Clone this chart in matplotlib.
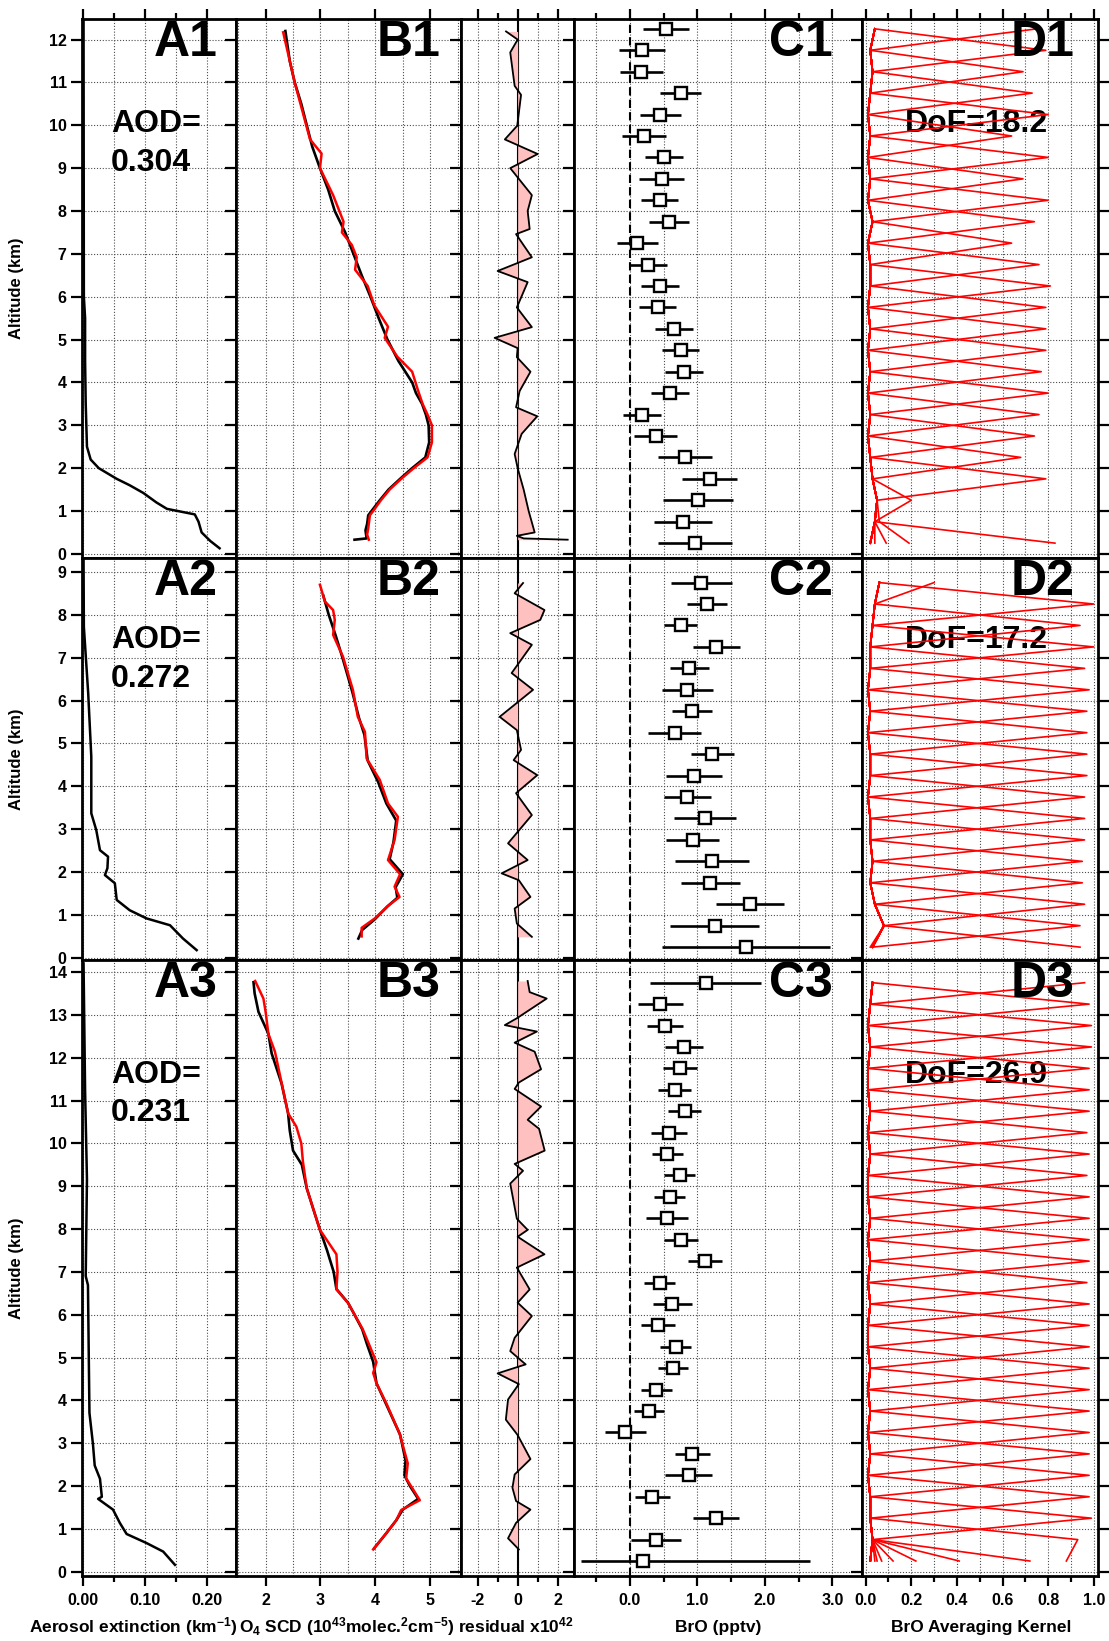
"""Aerosol, O4 and BrO profile retrievals for three cases (rows 1-3).

Columns: aerosol extinction (A), measured vs modelled O4 SCD (B),
fit residual, retrieved BrO with errors (C) and BrO averaging kernels (D).
"""

import matplotlib

matplotlib.use("Agg")
import matplotlib.pyplot as plt
import numpy as np
from matplotlib.ticker import FormatStrFormatter, MultipleLocator

plt.rcParams.update({
    "font.family": ["Liberation Sans", "DejaVu Sans"],
    "font.weight": "bold",
    "mathtext.fontset": "custom",
    "mathtext.rm": "Liberation Sans:bold",
    "mathtext.it": "Liberation Sans:bold",
    "mathtext.bf": "Liberation Sans:bold",
    "mathtext.default": "rm",
    "axes.unicode_minus": False,
})

# ---------------------------------------------------------------- data
# retrieval layer centres (km)
layers1 = np.arange(0.25, 12.5, 0.5)
layers2 = np.arange(0.25, 9.0, 0.5)
layers3 = np.arange(0.25, 14.0, 0.5)

aod_text = ["0.304", "0.272", "0.231"]
dof_text = ["18.2", "17.2", "26.9"]

# aerosol extinction (km-1)
ext1_alt = [0.13, 0.3, 0.5, 0.75, 0.92, 1.05, 1.2, 1.42, 1.6, 1.75, 2.0, 2.2, 2.5,
            3.0, 3.5, 4.5, 5.5, 6.0, 12.45]
ext1 = [0.220, 0.205, 0.191, 0.186, 0.180, 0.135, 0.118, 0.097, 0.075, 0.054, 0.025,
        0.012, 0.006, 0.005, 0.004, 0.003, 0.003, 0.001, 0.0005]
ext2_alt = [0.18, 0.45, 0.76, 0.92, 1.11, 1.35, 1.74, 1.93, 2.09, 2.36, 2.51, 2.98,
            3.37, 4.69, 6.17, 7.72, 9.3]
ext2 = [0.183, 0.161, 0.140, 0.102, 0.075, 0.054, 0.051, 0.035, 0.039, 0.040, 0.027,
        0.021, 0.013, 0.013, 0.008, 0.001, 0.0005]
ext3_alt = [0.16, 0.47, 0.67, 0.88, 1.14, 1.45, 1.70, 1.75, 2.17, 2.48, 2.99, 3.71,
            6.69, 6.9, 9.16, 11.22, 14.2]
ext3 = [0.148, 0.129, 0.102, 0.070, 0.059, 0.048, 0.024, 0.030, 0.027, 0.0185, 0.0156,
        0.010, 0.0076, 0.004, 0.006, 0.003, 0.0005]

# O4 SCD (1e43 molec^2 cm^-5): measured (black) and modelled (red)
o4m1_alt = [0.33, 0.36, 0.55, 0.7, 0.9, 1.0, 1.25, 1.5, 1.75, 2.0, 2.25, 2.6, 3.0,
            3.25, 3.5, 3.75, 4.0, 4.5, 5.0, 5.5, 6.0, 6.5, 7.0, 7.5, 8.0, 8.5, 9.0,
            9.5, 10.0, 10.5, 11.0, 11.5, 12.2]
o4m1 = [3.62, 3.84, 3.82, 3.85, 3.87, 3.93, 4.08, 4.24, 4.45, 4.67, 4.91, 4.98, 4.97,
        4.92, 4.85, 4.74, 4.67, 4.42, 4.22, 4.06, 3.91, 3.75, 3.60, 3.45, 3.26, 3.14,
        2.99, 2.85, 2.75, 2.65, 2.53, 2.44, 2.36]
o4r1_alt = [0.33, 0.45, 0.6, 0.9, 1.0, 1.25, 1.5, 1.75, 2.0, 2.25, 2.6, 3.0, 3.25, 3.5,
            3.8, 4.25, 4.6, 5.04, 5.3, 5.8, 6.25, 6.63, 6.92, 7.21, 7.5, 7.75, 8.37,
            9.0, 9.34, 9.67, 10.0, 11.0, 12.17]
o4r1 = [3.88, 3.85, 3.87, 3.90, 3.96, 4.10, 4.26, 4.47, 4.70, 4.95, 5.03, 5.03, 4.95,
        4.86, 4.78, 4.67, 4.40, 4.17, 4.23, 3.98, 3.86, 3.63, 3.66, 3.57, 3.39, 3.42,
        3.23, 2.99, 3.02, 2.81, 2.74, 2.53, 2.32]
o4m2_alt = [0.45, 0.65, 0.9, 1.2, 1.4, 1.65, 1.95, 2.3, 2.7, 3.2, 3.6, 4.1, 4.6, 5.2,
            5.6, 6.2, 7.0, 7.5, 8.0, 8.45]
o4m2 = [3.69, 3.76, 3.99, 4.22, 4.40, 4.37, 4.50, 4.26, 4.33, 4.38, 4.20, 4.05, 3.86,
        3.80, 3.70, 3.58, 3.40, 3.28, 3.15, 3.05]
o4r2_alt = [0.5, 0.7, 0.92, 1.2, 1.42, 1.66, 1.95, 2.28, 2.75, 3.29, 3.6, 4.15, 4.65,
            5.27, 5.62, 6.25, 7.02, 7.53, 7.88, 8.11, 8.31, 8.7]
o4r2 = [3.75, 3.75, 3.99, 4.22, 4.44, 4.35, 4.45, 4.23, 4.35, 4.41, 4.23, 4.08, 3.84,
        3.81, 3.68, 3.59, 3.41, 3.23, 3.26, 3.23, 3.08, 2.99]
o4m3_alt = [0.55, 0.9, 1.2, 1.45, 1.7, 2.0, 2.25, 2.6, 3.2, 3.9, 4.4, 4.9, 5.3, 5.66,
            6.0, 6.28, 6.6, 7.0, 7.5, 7.98, 8.5, 8.95, 9.5, 9.83, 10.3, 10.7, 11.4,
            12.1, 12.56, 13.07, 13.5, 13.76]
o4m3 = [3.98, 4.20, 4.38, 4.50, 4.78, 4.63, 4.53, 4.55, 4.45, 4.20, 4.02, 3.96, 3.85,
        3.76, 3.62, 3.50, 3.29, 3.24, 3.12, 2.99, 2.86, 2.75, 2.66, 2.50, 2.44, 2.41,
        2.29, 2.11, 2.05, 1.87, 1.80, 1.78]
o4r3_alt = [0.52, 0.9, 1.2, 1.44, 1.67, 2.18, 2.53, 3.23, 3.93, 4.4, 4.64, 4.89, 5.66,
            6.28, 6.59, 7.0, 7.41, 7.98, 8.95, 9.57, 10.0, 10.39, 10.7, 11.42, 12.14,
            12.56, 13.07, 13.38, 13.79]
o4r3 = [3.96, 4.20, 4.38, 4.47, 4.81, 4.56, 4.59, 4.44, 4.20, 4.02, 3.96, 4.02, 3.77,
        3.50, 3.29, 3.31, 3.29, 2.99, 2.75, 2.68, 2.65, 2.56, 2.41, 2.29, 2.17, 2.05,
        2.00, 1.96, 1.81]

# O4 fit residual (x1e42)
res1_alt = [0.33, 0.36, 0.42, 0.50, 1.0, 1.5, 2.0, 2.33, 2.8, 3.21, 3.42, 3.8, 4.25,
            4.59, 4.80, 5.04, 5.29, 5.75, 6.34, 6.60, 6.92, 7.46, 7.58, 8.0, 8.37,
            9.0, 9.33, 9.67, 9.99, 10.71, 10.92, 11.7, 12.0, 12.19]
res1 = [2.5, 0.3, -0.04, 0.85, 0.55, 0.3, 0.0, -0.15, 0.2, 0.98, -0.08, 0.1, 0.64,
        -0.04, 0.0, -1.15, 0.71, -0.04, 0.5, -1.0, 0.71, -0.08, 0.6, 0.5, 0.71, -0.37,
        1.0, -0.64, -0.02, 0.17, -0.15, -0.37, 0.0, -0.58]
res2_alt = [0.49, 0.80, 1.15, 1.42, 1.81, 1.97, 2.28, 2.67, 3.33, 3.84, 4.26, 4.61,
            4.85, 5.31, 5.62, 6.25, 6.64, 7.30, 7.57, 7.88, 8.11, 8.50, 8.74]
res2 = [0.71, -0.04, -0.15, 0.64, 0.06, -0.8, 0.5, -0.48, 0.71, -0.08, 0.98, -0.2,
        0.17, -0.04, -0.9, 0.77, -0.3, 0.71, -0.37, 1.13, 1.34, -0.15, 0.27]
res3_alt = [0.52, 0.78, 1.14, 1.45, 1.65, 1.96, 2.27, 2.63, 3.19, 3.55, 4.02, 4.38,
            4.63, 4.84, 5.15, 5.46, 5.97, 6.28, 6.59, 7.10, 7.41, 7.82, 7.98, 8.24,
            9.06, 9.36, 9.52, 9.83, 10.34, 10.55, 10.86, 11.27, 11.42, 11.73, 12.14,
            12.35, 12.61, 12.76, 12.92, 13.38, 13.53, 13.79]
res3 = [0.06, -0.48, -0.08, 0.64, -0.08, -0.26, -0.15, 0.64, 0.0, -0.59, -0.48, 0.06,
        -1.0, 0.4, -0.37, -0.15, 0.71, 0.0, 0.6, -0.04, 1.34, 0.0, 0.5, -0.04, -0.37,
        0.27, -0.15, 1.35, 1.07, 0.5, 1.17, -0.15, 0.06, 1.17, 0.85, -0.15, 0.96,
        -0.64, -0.04, 1.45, 0.6, 0.5]

# retrieved BrO (pptv) with lower / upper error, bottom layer first
bro1 = [0.97, 0.79, 1.01, 1.18, 0.82, 0.38, 0.18, 0.59, 0.80, 0.75, 0.65, 0.41, 0.45,
        0.27, 0.11, 0.58, 0.44, 0.47, 0.50, 0.21, 0.45, 0.75, 0.17, 0.18, 0.54]
bro1_err_lo = [0.55, 0.43, 0.52, 0.41, 0.40, 0.32, 0.28, 0.28, 0.28, 0.28, 0.28, 0.27,
               0.28, 0.28, 0.31, 0.30, 0.27, 0.33, 0.28, 0.33, 0.30, 0.30, 0.32, 0.34, 0.34]
bro1_err_hi = bro1_err_lo
bro2 = [1.72, 1.26, 1.78, 1.19, 1.21, 0.93, 1.11, 0.85, 0.95, 1.22, 0.66, 0.92, 0.85,
        0.88, 1.28, 0.75, 1.14, 1.06]
bro2_err_lo = [1.24, 0.66, 0.51, 0.44, 0.55, 0.39, 0.46, 0.35, 0.42, 0.32, 0.40, 0.30,
               0.38, 0.29, 0.35, 0.25, 0.30, 0.45]
bro2_err_hi = bro2_err_lo
bro3 = [0.19, 0.38, 1.28, 0.33, 0.87, 0.92, -0.07, 0.28, 0.39, 0.64, 0.68, 0.42, 0.63,
        0.44, 1.11, 0.76, 0.55, 0.59, 0.74, 0.55, 0.58, 0.81, 0.66, 0.74, 0.80, 0.52,
        0.45, 1.12]
bro3_err_lo = [0.92, 0.37, 0.34, 0.26, 0.35, 0.26, 0.30, 0.22, 0.23, 0.22, 0.23, 0.25,
               0.29, 0.23, 0.25, 0.25, 0.31, 0.23, 0.23, 0.23, 0.27, 0.25, 0.25, 0.25,
               0.28, 0.27, 0.33, 0.83]
bro3_err_hi = [2.48, 0.37, 0.34, 0.26, 0.35, 0.26, 0.30, 0.22, 0.23, 0.22, 0.23, 0.25,
               0.29, 0.23, 0.25, 0.25, 0.31, 0.23, 0.23, 0.23, 0.27, 0.25, 0.25, 0.25,
               0.28, 0.27, 0.33, 0.83]

# averaging kernels: peak value of each kernel, the background level the
# kernels share at the other layers, and values at the lowest layer for the
# kernels just above it
ak1_diag = [0.83, 0.06, 0.20, 0.79, 0.68, 0.74, 0.76, 0.80, 0.77, 0.79, 0.79, 0.79,
            0.81, 0.76, 0.64, 0.74, 0.80, 0.69, 0.80, 0.64, 0.80, 0.73, 0.69, 0.79, 0.75]
ak1_floor = [0.02, 0.04, 0.05, 0.03, 0.02, 0.01, 0.02, 0.01, 0.02, 0.01, 0.02, 0.01,
             0.02, 0.02, 0.01, 0.03, 0.01, 0.02, 0.01, 0.02, 0.01, 0.02, 0.03, 0.02, 0.04]
ak1_surface = [0.19, 0.09, 0.04, 0.02]
ak2_diag = [0.94, 0.94, 0.96, 0.95, 0.95, 0.96, 0.96, 0.96, 0.97, 0.97, 0.97, 0.97,
            0.98, 0.96, 1.00, 0.94, 1.00, 0.30]
ak2_floor = [0.03, 0.08, 0.04, 0.02, 0.03, 0.02, 0.02, 0.01, 0.02, 0.02, 0.01, 0.02,
             0.01, 0.02, 0.02, 0.03, 0.04, 0.06]
ak2_surface = [0.03, 0.02]
ak3_diag = [0.05, 0.93, 0.99, 0.98, 0.98, 0.98, 0.98, 0.98, 0.98, 0.98, 0.98, 0.98,
            0.98, 0.97, 0.98, 0.98, 0.98, 0.98, 0.97, 0.98, 0.97, 0.98, 0.98, 0.98,
            0.99, 0.99, 0.98, 0.96]
ak3_floor = [0.02, 0.03, 0.02, 0.02, 0.01, 0.02, 0.01, 0.02, 0.01, 0.02, 0.01, 0.01,
             0.02, 0.01, 0.02, 0.01, 0.02, 0.01, 0.01, 0.02, 0.01, 0.02, 0.01, 0.01,
             0.02, 0.01, 0.02, 0.03]
ak3_surface = [0.88, 0.72, 0.41, 0.22, 0.12, 0.07, 0.04, 0.02]

# ---------------------------------------------------------------- layout
FIG_W, FIG_H = 1109, 1641
COL_PX = [82, 235.7, 461, 574.3, 861.7, 1097.7]
ROW_PX = [19, 557.7, 960, 1576]
YLIMS = [(-0.09, 12.48), (-0.05, 9.33), (-0.10, 14.28)]
XLIMS = [(-0.002, 0.246), (1.455, 5.56), (-2.83, 2.83), (-0.826, 3.436), (-0.0175, 1.0175)]
X_MAJOR = [0.1, 1, 2, 1, 0.2]
X_MINOR = [0.05, 0.5, 1, 0.5, 0.1]
X_FMT = ["%.2f", "%d", "%d", "%.1f", "%.1f"]
LABEL_PAD = [12.7, 15, None, 21, 16.5]  # panel letter inset from right (pt)
AOD_BASE = [9.84, 7.22, 11.42]

PINK = "#ffc0c0"
GRID = dict(linestyle=(0, (1, 1.6)), color="0.3", linewidth=0.8)


def add_panel(fig, r, c):
    x0, x1 = COL_PX[c], COL_PX[c + 1]
    y0, y1 = ROW_PX[r], ROW_PX[r + 1]
    return fig.add_axes([x0 / FIG_W, 1 - y1 / FIG_H, (x1 - x0) / FIG_W, (y1 - y0) / FIG_H])


def style_panel(ax, r, c):
    ax.set_xlim(*XLIMS[c])
    ax.set_ylim(*YLIMS[r])
    ax.xaxis.set_major_locator(MultipleLocator(X_MAJOR[c]))
    ax.xaxis.set_minor_locator(MultipleLocator(X_MINOR[c]))
    ax.xaxis.set_major_formatter(FormatStrFormatter(X_FMT[c]))
    ax.yaxis.set_major_locator(MultipleLocator(1))
    ax.set_axisbelow(True)
    ax.grid(True, which="both", axis="x", **GRID)
    ax.grid(True, which="major", axis="y", **GRID)
    for s in ax.spines.values():
        s.set_linewidth(2)
    ax.tick_params(axis="y", which="major", direction="out", left=True, right=True,
                   length=8, width=1.6, labelleft=(c == 0), labelsize=11.5, pad=3)
    ax.tick_params(axis="x", which="both", direction="out", top=(r == 0),
                   bottom=(r == 2), labelbottom=(r == 2), labeltop=False,
                   width=1.6, labelsize=11.5, pad=5)
    ax.tick_params(axis="x", which="major", length=7)
    ax.tick_params(axis="x", which="minor", length=0 if c == 1 else 4)
    if LABEL_PAD[c] is not None:
        ax.annotate(f"{'ABCD'[[0, 1, 3, 4].index(c)]}{r + 1}", xy=(1, 1),
                    xycoords="axes fraction", xytext=(-LABEL_PAD[c], -1),
                    textcoords="offset points", ha="right", va="top",
                    fontsize=36, fontweight="bold", zorder=5)


def kernel_matrix(diag, floor, surface):
    n = len(diag)
    k = np.tile(np.asarray(floor, float), (n, 1))
    k[np.arange(n), np.arange(n)] = diag
    for i, v in enumerate(surface, start=1):
        k[i, 0] = v
    return k


def main():
    fig = plt.figure(figsize=(FIG_W / 100, FIG_H / 100), dpi=100)

    ext = [(ext1_alt, ext1), (ext2_alt, ext2), (ext3_alt, ext3)]
    o4 = [(o4m1_alt, o4m1, o4r1_alt, o4r1), (o4m2_alt, o4m2, o4r2_alt, o4r2),
          (o4m3_alt, o4m3, o4r3_alt, o4r3)]
    res = [(res1_alt, res1), (res2_alt, res2), (res3_alt, res3)]
    bro = [(layers1, bro1, bro1_err_lo, bro1_err_hi),
           (layers2, bro2, bro2_err_lo, bro2_err_hi),
           (layers3, bro3, bro3_err_lo, bro3_err_hi)]
    aks = [(layers1, ak1_diag, ak1_floor, ak1_surface),
           (layers2, ak2_diag, ak2_floor, ak2_surface),
           (layers3, ak3_diag, ak3_floor, ak3_surface)]

    for r in range(3):
        axes = [add_panel(fig, r, c) for c in range(5)]
        for c, ax in enumerate(axes):
            style_panel(ax, r, c)
        ax_a, ax_b, ax_r, ax_c, ax_d = axes

        # aerosol extinction
        ax_a.plot(ext[r][1], ext[r][0], color="black", lw=1.8)
        ax_a.text(0.045, AOD_BASE[r], "AOD=", fontsize=23, va="baseline")
        ax_a.annotate(aod_text[r], xy=(0.045, AOD_BASE[r]), xytext=(0, -28),
                      textcoords="offset points", fontsize=23, va="baseline")

        # O4 SCD
        ma, mv, ra, rv = o4[r]
        ax_b.plot(mv, ma, color="black", lw=1.9)
        ax_b.plot(rv, ra, color="red", lw=1.8)

        # residual
        ra_, rv_ = res[r]
        ax_r.axvline(0, color="black", lw=1.5, zorder=1.5)
        ax_r.fill_betweenx(ra_, 0, rv_, color=PINK, lw=0, zorder=2)
        ax_r.plot(rv_, ra_, color="black", lw=1.3, zorder=3)

        # BrO profile
        z, v, lo, hi = bro[r]
        ax_c.axvline(0, color="black", lw=1.5, linestyle=(0, (4, 2)), zorder=1.5)
        ax_c.errorbar(v, z, xerr=[lo, hi], fmt="s", ms=8, mfc="white", mec="black",
                      mew=1.7, ecolor="black", elinewidth=1.9, capsize=0, zorder=3)

        # averaging kernels
        z, diag, floor, surface = aks[r]
        ax_d.text(0.172, AOD_BASE[r], f"DoF={dof_text[r]}", fontsize=23,
                  va="baseline", zorder=1.5)
        for row in kernel_matrix(diag, floor, surface):
            ax_d.plot(row, z, color="red", lw=1.2, zorder=2)

        centre = 1 - (ROW_PX[r] + ROW_PX[r + 1]) / 2 / FIG_H
        fig.text(16.7 / FIG_W, centre, "Altitude (km)", rotation=90, fontsize=12,
                 ha="center", va="center")

    base = (FIG_H - 1632) / FIG_H
    xlabels = [(133, "Aerosol extinction (km$^{-1}$)"),
               (347, "O$_4$ SCD (10$^{43}$molec.$^{2}$cm$^{-5}$)"),
               (516, "residual x10$^{42}$"),
               (718, "BrO (pptv)"),
               (981, "BrO Averaging Kernel")]
    for x, label in xlabels:
        fig.text(x / FIG_W, base, label, fontsize=12.5, ha="center", va="baseline")

    fig.savefig("out.png", dpi=100)


if __name__ == "__main__":
    main()
